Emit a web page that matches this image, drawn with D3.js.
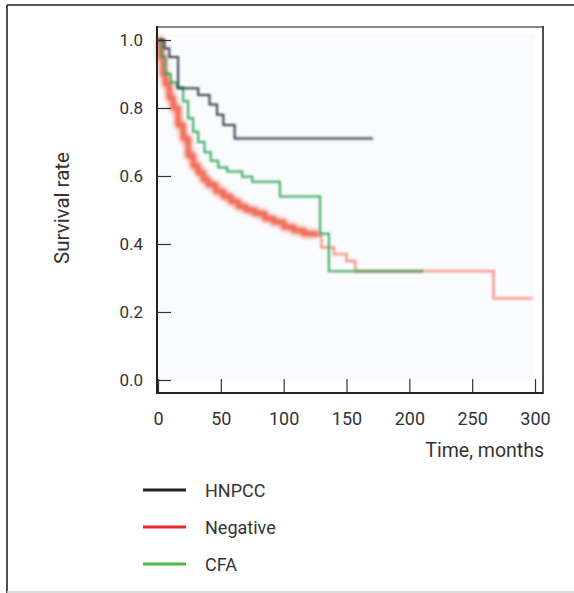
<!DOCTYPE html>
<html><head><meta charset="utf-8">
<script src="https://cdn.jsdelivr.net/npm/d3@7"></script>
<style>
html,body{margin:0;padding:0;background:#fff;}
svg{display:block;}
text{font-family:Roboto,"Noto Sans",sans-serif;fill:#333;}
</style></head>
<body><svg id="c" width="574" height="593"></svg>
<script>
// Data (Kaplan-Meier step points: time in months, survival)
const hnpccT = [0, 5, 9, 16, 32, 41, 47, 52, 61, 171];
const hnpccS = [1.0, 0.975, 0.95, 0.858, 0.838, 0.81, 0.78, 0.75, 0.71, 0.71];
const hnpccCens = [4, 18, 24, 36, 44, 52, 59, 63, 73, 83, 92, 96, 107, 116, 125, 137, 163, 171];

const cfaT = [0, 3, 6, 10, 15, 20, 24, 28, 32, 37, 42, 48, 55, 67, 75, 97, 129, 136, 211];
const cfaS = [1.0, 0.95, 0.90, 0.875, 0.86, 0.82, 0.77, 0.73, 0.70, 0.67, 0.645, 0.625, 0.613, 0.598, 0.583, 0.54, 0.43, 0.32, 0.32];
const cfaCens = [41, 52, 55, 67, 75, 83, 89, 95, 103, 115, 123, 155, 169, 198];

const negT = [0, 2, 4, 6, 9, 12, 16, 20, 24, 28, 32, 36, 40, 46, 52, 58, 64, 70, 77, 85, 92, 100, 108, 116, 126, 130, 140, 150, 157, 267, 298];
const negS = [1.0, 0.95, 0.90, 0.87, 0.83, 0.80, 0.75, 0.71, 0.66, 0.63, 0.61, 0.59, 0.575, 0.555, 0.54, 0.525, 0.51, 0.50, 0.49, 0.475, 0.465, 0.45, 0.44, 0.43, 0.425, 0.39, 0.37, 0.35, 0.32, 0.24, 0.24];
const negCens = [166, 187, 198, 232, 285, 292];

const xTicks = [0, 50, 100, 150, 200, 250, 300];
const yTicks = [0.0, 0.2, 0.4, 0.6, 0.8, 1.0];
const legendNames = ["HNPCC", "Negative", "CFA"];
const legendColors = ["#222222", "#e8282c", "#4cb84c"];

const svg = d3.select("#c");
const x = d3.scaleLinear().domain([0, 300]).range([158, 535]);
const y = d3.scaleLinear().domain([0, 1]).range([380, 40]);

const defs = svg.append("defs");
defs.append("filter").attr("id","blur").attr("x","-5%").attr("y","-5%").attr("width","110%").attr("height","110%")
  .append("feGaussianBlur").attr("stdDeviation", 0.9);
defs.append("filter").attr("id","blur2").attr("x","-5%").attr("y","-5%").attr("width","110%").attr("height","110%")
  .append("feGaussianBlur").attr("stdDeviation", 2.3);

// outer frame
svg.append("line").attr("x1",7).attr("x2",574).attr("y1",5).attr("y2",5).attr("stroke","#222").attr("stroke-width",1.6);
svg.append("line").attr("x1",7).attr("x2",7).attr("y1",5).attr("y2",593).attr("stroke","#222").attr("stroke-width",1.6);
svg.append("line").attr("x1",7).attr("x2",574).attr("y1",592).attr("y2",592).attr("stroke","#cfcfcf").attr("stroke-width",1.5);

// plot background
svg.append("rect").attr("x",158).attr("y",34).attr("width",377).attr("height",346).attr("fill","#fafbfe");

const line = (T, S) => d3.line().curve(d3.curveStepAfter).x((d,i)=>x(T[i])).y((d,i)=>y(S[i]))(T);

const curves = svg.append("g");
// Negative (red): pale full curve + thick dense early part
curves.append("path").attr("d", line(negT, negS)).attr("fill","none").attr("stroke","#f4a393").attr("stroke-width",2.8).attr("filter","url(#blur)");
const cut = negT.indexOf(126);
curves.append("path").attr("d", line(negT.slice(0,cut+1), negS.slice(0,cut+1))).attr("fill","none")
  .attr("stroke","#f06652").attr("stroke-opacity",0.9).attr("stroke-width",7).attr("stroke-linejoin","round").attr("filter","url(#blur2)");
// CFA (green)
curves.append("path").attr("d", line(cfaT, cfaS)).attr("fill","none").attr("stroke","#36a85a").attr("stroke-width",2).attr("filter","url(#blur)");
// HNPCC (dark)
curves.append("path").attr("d", line(hnpccT, hnpccS)).attr("fill","none").attr("stroke","#2f3b4e").attr("stroke-width",2).attr("filter","url(#blur)");

function survAt(T, S, t){ let s = S[0]; for (let i=0;i<T.length;i++){ if (T[i] <= t) s = S[i]; } return s; }
function censor(list, T, S, color){
  curves.append("g").selectAll("line").data(list).join("line")
    .attr("x1", d=>x(d)).attr("x2", d=>x(d))
    .attr("y1", d=>y(survAt(T,S,d))-3).attr("y2", d=>y(survAt(T,S,d))+3)
    .attr("stroke", color).attr("stroke-width",2).attr("filter","url(#blur)");
}
censor(negCens, negT, negS, "#f4a393");
censor(cfaCens, cfaT, cfaS, "#2a984c");
censor(hnpccCens, hnpccT, hnpccS, "#26324a");

// plot frame
svg.append("line").attr("x1",157).attr("x2",543).attr("y1",27).attr("y2",27).attr("stroke","#8a8a8a").attr("stroke-width",2);
svg.append("line").attr("x1",543).attr("x2",543).attr("y1",26).attr("y2",394).attr("stroke","#222").attr("stroke-width",1.6);

// axes
const xAxis = d3.axisBottom(x).tickValues(xTicks).tickSize(-14).tickPadding(19).tickFormat(d3.format("d"));
const gx = svg.append("g").attr("transform","translate(0,393)").call(xAxis);
gx.select(".domain").attr("d","M157,0H543").attr("stroke","#222").attr("stroke-width",2);
gx.selectAll(".tick line").attr("stroke","#333").attr("stroke-width",1.2);
gx.selectAll("text").attr("font-size",18).attr("fill","#333").attr("font-family","Roboto,'Noto Sans',sans-serif");

const yAxis = d3.axisLeft(y).tickValues(yTicks).tickSize(-14).tickPadding(14).tickFormat(d3.format(".1f"));
const gy = svg.append("g").attr("transform","translate(157,0)").call(yAxis);
gy.select(".domain").attr("d","M0,26V394").attr("stroke","#222").attr("stroke-width",2);
gy.selectAll(".tick line").attr("stroke","#333").attr("stroke-width",1.2);
gy.selectAll("text").attr("font-size",17).attr("fill","#333").attr("font-family","Roboto,'Noto Sans',sans-serif");

// axis titles
svg.append("text").attr("x",544).attr("y",457).attr("text-anchor","end").attr("font-size",19.5).text("Time, months");
svg.append("text").attr("transform","translate(69,208) rotate(-90)").attr("text-anchor","middle").attr("font-size",20.5).text("Survival rate");

// legend
const lg = svg.append("g").selectAll("g").data(legendNames).join("g")
  .attr("transform",(d,i)=>`translate(0,${490 + i*37})`);
lg.append("line").attr("x1",143).attr("x2",186).attr("y1",0).attr("y2",0)
  .attr("stroke",(d,i)=>legendColors[i]).attr("stroke-width",3);
lg.append("text").attr("x",205).attr("y",7).attr("font-size",18).text(d=>d);
</script></body></html>
